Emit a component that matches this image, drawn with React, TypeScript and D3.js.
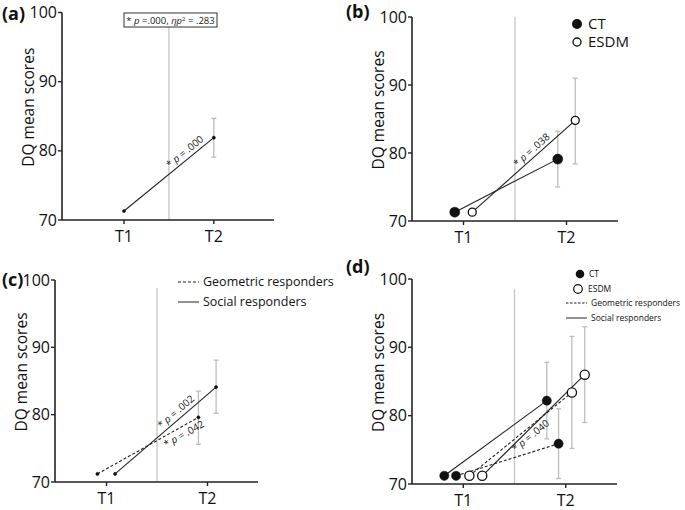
import React from "react";
import * as d3 from "d3";

// ---------- data ----------
const timepoints = ["T1", "T2"];
const yTicks = [70, 80, 90, 100];

// (a) whole sample
const aAll = [71.3, 81.9];
const aAllErrT2 = [79.1, 84.7];

// (b) by intervention
const bCT = [71.3, 79.1];
const bCTErrT2 = [75.0, 83.2];
const bESDM = [71.3, 84.8];
const bESDMErrT2 = [78.4, 91.0];

// (c) by responder type
const cGeo = [71.2, 79.6];
const cGeoErrT2 = [75.6, 83.5];
const cSoc = [71.2, 84.1];
const cSocErrT2 = [80.2, 88.1];

// (d) intervention x responder type
const dCTSoc = [71.2, 82.2];
const dCTSocErrT2 = [76.6, 87.8];
const dCTGeo = [71.2, 75.9];
const dCTGeoErrT2 = [70.8, 81.0];
const dESDMGeo = [71.2, 83.4];
const dESDMGeoErrT2 = [75.2, 91.6];
const dESDMSoc = [71.2, 86.0];
const dESDMSocErrT2 = [79.0, 93.0];

const legendCT = "CT";
const legendESDM = "ESDM";
const legendGeo = "Geometric responders";
const legendSoc = "Social responders";

const FONT = "'Open Sans', 'DejaVu Sans', sans-serif";
const AXIS = "#222";
const GRAY = "#c6c6c6";

type Series = {
  values: number[];
  err: number[] | null;
  offset: number;
  dashed?: boolean;
  marker: "dot" | "filled" | "open";
  r?: number;
};

type Annot = { series: number; t: number; dy: number; text: string };

type PanelCfg = {
  label: string;
  labelX: number;
  labelY: number;
  xRange: [number, number];
  xDomain: [number, number];
  yRange: [number, number];
  dividerTop: number;
  series: Series[];
  annots: Annot[];
};

const panels: PanelCfg[] = [
  {
    label: "(a)", labelX: 2, labelY: 20,
    xRange: [62, 274], xDomain: [-0.69, 1.67], yRange: [220, 12.5], dividerTop: 27,
    series: [{ values: aAll, err: aAllErrT2, offset: 0, marker: "dot" }],
    annots: [{ series: 0, t: 0.73, dy: -4, text: "p = .000" }],
  },
  {
    label: "(b)", labelX: 346, labelY: 18,
    xRange: [412, 618], xDomain: [-0.5, 1.5], yRange: [221, 17], dividerTop: 17,
    series: [
      { values: bCT, err: bCTErrT2, offset: -0.085, marker: "filled", r: 5 },
      { values: bESDM, err: bESDMErrT2, offset: 0.085, marker: "open", r: 4 },
    ],
    annots: [{ series: 1, t: 0.62, dy: -3.5, text: "p = .038" }],
  },
  {
    label: "(c)", labelX: 2, labelY: 286,
    xRange: [55, 258], xDomain: [-0.51, 1.5], yRange: [482, 280], dividerTop: 288,
    series: [
      { values: cGeo, err: cGeoErrT2, offset: -0.09, dashed: true, marker: "dot" },
      { values: cSoc, err: cSocErrT2, offset: 0.085, marker: "dot" },
    ],
    annots: [
      { series: 1, t: 0.65, dy: -4, text: "p = .002" },
      { series: 0, t: 0.82, dy: 11, text: "p = .042" },
    ],
  },
  {
    label: "(d)", labelX: 346, labelY: 273,
    xRange: [412, 617], xDomain: [-0.5, 1.5], yRange: [484, 279], dividerTop: 289,
    series: [
      { values: dCTSoc, err: dCTSocErrT2, offset: -0.185, marker: "filled", r: 4.6 },
      { values: dCTGeo, err: dCTGeoErrT2, offset: -0.07, dashed: true, marker: "filled", r: 4.6 },
      { values: dESDMGeo, err: dESDMGeoErrT2, offset: 0.06, dashed: true, marker: "open", r: 4.6 },
      { values: dESDMSoc, err: dESDMSocErrT2, offset: 0.185, marker: "open", r: 4.6 },
    ],
    annots: [{ series: 2, t: 0.55, dy: 11, text: "p = .040" }],
  },
];

function Panel({ cfg }: { cfg: PanelCfg }) {
  const x = d3.scaleLinear().domain(cfg.xDomain).range(cfg.xRange);
  const y = d3.scaleLinear().domain([70, 100]).range(cfg.yRange);
  const x0 = cfg.xRange[0];
  const yBase = y(70);
  const yMid = (y(70) + y(100)) / 2 - 9;
  const line = d3.line<[number, number]>().x((d) => d[0]).y((d) => d[1]);

  const pts = (s: Series) =>
    s.values.map((v, i) => [x(i + s.offset), y(v)] as [number, number]);

  return (
    <g>
      <text x={cfg.labelX} y={cfg.labelY} fontFamily={FONT} fontWeight="bold" fontSize={18} fill="#111">
        {cfg.label}
      </text>
      {/* divider */}
      <line x1={x(0.5)} x2={x(0.5)} y1={cfg.dividerTop} y2={yBase} stroke={GRAY} strokeWidth={1.3} />
      {/* axes */}
      <line x1={x0} x2={x0} y1={y(100)} y2={yBase} stroke={AXIS} strokeWidth={1.6} />
      <line x1={x0} x2={cfg.xRange[1]} y1={yBase} y2={yBase} stroke={AXIS} strokeWidth={1.6} />
      {yTicks.map((t) => (
        <g key={t}>
          <line x1={x0 - 4} x2={x0} y1={y(t)} y2={y(t)} stroke={AXIS} strokeWidth={1.4} />
          <text x={x0 - 5} y={y(t)} dy="0.35em" textAnchor="end" fontFamily={FONT} fontSize={16} fill="#111">
            {t}
          </text>
        </g>
      ))}
      {timepoints.map((tp, i) => (
        <g key={tp}>
          <line x1={x(i)} x2={x(i)} y1={yBase} y2={yBase + 4} stroke={AXIS} strokeWidth={1.4} />
          <text x={x(i)} y={yBase + 22} textAnchor="middle" fontFamily={FONT} fontSize={16} fill="#111">
            {tp}
          </text>
        </g>
      ))}
      <text
        transform={`translate(${x0 - 34},${yMid}) rotate(-90)`}
        textAnchor="middle"
        dominantBaseline="central"
        fontFamily={FONT}
        fontSize={15.5}
        fill="#111"
      >
        DQ mean scores
      </text>
      {/* error bars */}
      {cfg.series.map((s, k) =>
        s.err ? (
          <g key={"e" + k} stroke="#bdbdbd" strokeWidth={1.3}>
            <line x1={x(1 + s.offset)} x2={x(1 + s.offset)} y1={y(s.err[0])} y2={y(s.err[1])} />
            <line x1={x(1 + s.offset) - 2.5} x2={x(1 + s.offset) + 2.5} y1={y(s.err[0])} y2={y(s.err[0])} />
            <line x1={x(1 + s.offset) - 2.5} x2={x(1 + s.offset) + 2.5} y1={y(s.err[1])} y2={y(s.err[1])} />
          </g>
        ) : null
      )}
      {/* lines */}
      {cfg.series.map((s, k) => (
        <path
          key={"l" + k}
          d={line(pts(s)) || ""}
          fill="none"
          stroke="#222"
          strokeWidth={1.1}
          strokeDasharray={s.dashed ? "3,2" : undefined}
        />
      ))}
      {/* markers */}
      {cfg.series.map((s, k) =>
        pts(s).map((p, i) => (
          <circle
            key={"m" + k + "-" + i}
            cx={p[0]}
            cy={p[1]}
            r={s.marker === "dot" ? 1.6 : s.r || 4.5}
            fill={s.marker === "open" ? "#fff" : "#111"}
            stroke="#111"
            strokeWidth={s.marker === "open" ? 1.3 : 0.5}
          />
        ))
      )}
      {/* annotations */}
      {cfg.annots.map((a, k) => {
        const p = pts(cfg.series[a.series]);
        const px = p[0][0] + a.t * (p[1][0] - p[0][0]);
        const py = p[0][1] + a.t * (p[1][1] - p[0][1]);
        const ang = (Math.atan2(p[1][1] - p[0][1], p[1][0] - p[0][0]) * 180) / Math.PI;
        const [pl, rest] = [a.text.slice(0, 1), a.text.slice(1)];
        return (
          <text
            key={"a" + k}
            transform={`translate(${px},${py}) rotate(${ang})`}
            y={a.dy}
            textAnchor="middle"
            fontFamily={FONT}
            fontSize={10}
            fill="#222"
          >
            {"* "}
            <tspan fontStyle="italic">{pl}</tspan>
            {rest}
          </text>
        );
      })}
    </g>
  );
}

export default function App() {
  return (
    <svg
      width={685}
      height={510}
      style={{ position: "absolute", left: 0, top: 0, background: "#fff" }}
    >
      <rect width={685} height={510} fill="#fff" />
      {panels.map((p) => (
        <Panel key={p.label} cfg={p} />
      ))}

      {/* (a) statistics box */}
      <rect x={124} y={13} width={93} height={14} fill="#fff" stroke="#333" strokeWidth={1} />
      <text x={170.5} y={24} textAnchor="middle" fontFamily={FONT} fontSize={9.5} fill="#222">
        {"* "}
        <tspan fontStyle="italic">p</tspan>
        {" =.000, "}
        <tspan fontStyle="italic">ηp</tspan>
        <tspan fontSize={6} dy={-3.5}>2</tspan>
        <tspan dy={3.5}>{" = .283"}</tspan>
      </text>

      {/* (b) legend */}
      <g fontFamily={FONT} fontSize={15} fill="#111">
        <circle cx={577} cy={24} r={5} fill="#111" />
        <text x={588} y={24} dy="0.35em">{legendCT}</text>
        <circle cx={577} cy={42} r={4} fill="#fff" stroke="#111" strokeWidth={1.3} />
        <text x={588} y={42} dy="0.35em">{legendESDM}</text>
      </g>

      {/* (c) legend */}
      <g fontFamily={FONT} fontSize={12.5} fill="#111">
        <line x1={178} x2={199} y1={282} y2={282} stroke="#222" strokeWidth={1} strokeDasharray="3,2" />
        <text x={203} y={282} dy="0.35em">{legendGeo}</text>
        <line x1={178} x2={199} y1={302} y2={302} stroke="#222" strokeWidth={1} />
        <text x={203} y={302} dy="0.35em">{legendSoc}</text>
      </g>

      {/* (d) legend */}
      <g fontFamily={FONT} fontSize={8.5} fill="#111">
        <circle cx={580} cy={274} r={4.3} fill="#111" />
        <text x={589} y={274} dy="0.35em">{legendCT}</text>
        <circle cx={578} cy={289} r={4.3} fill="#fff" stroke="#111" strokeWidth={1.2} />
        <text x={588} y={289} dy="0.35em">{legendESDM}</text>
        <line x1={566} x2={587} y1={303} y2={303} stroke="#222" strokeWidth={1} strokeDasharray="2.5,1.5" />
        <text x={591} y={303} dy="0.35em">{legendGeo}</text>
        <line x1={566} x2={587} y1={318} y2={318} stroke="#222" strokeWidth={1} />
        <text x={591} y={318} dy="0.35em">{legendSoc}</text>
      </g>
    </svg>
  );
}
